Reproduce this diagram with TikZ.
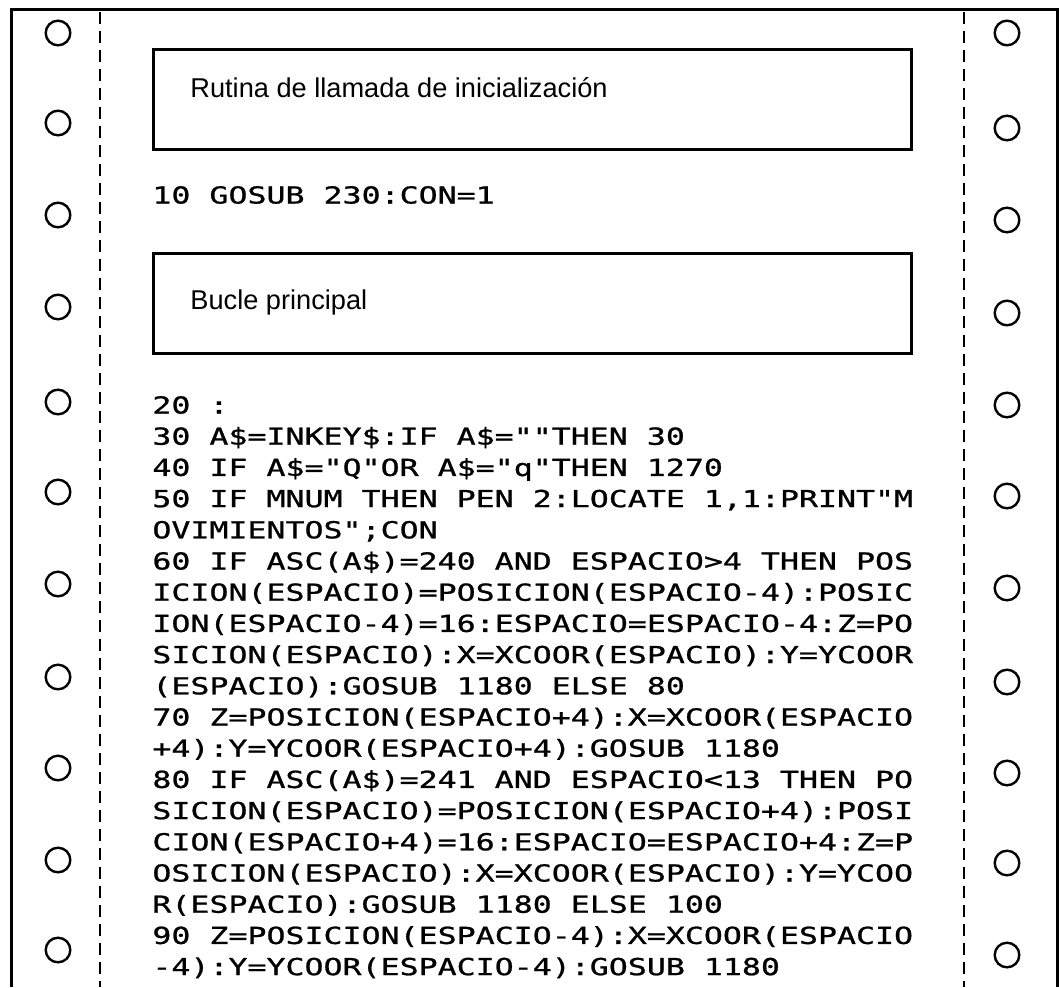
\documentclass[tikz,border=0pt]{standalone}
\usepackage{fontspec}
\setmainfont{Liberation Sans}
\newfontfamily\basicfont[FakeStretch=1.35,FakeBold=1,Ligatures=TeXOff]{DejaVu Sans Mono}
\begin{document}
\begin{tikzpicture}[x=0.5pt,y=-0.5pt]
        \tikzstyle{hole}=[circle,line width=1.2pt,draw=black,minimum size=12.3pt,inner sep=0pt]
        \tikzstyle{tear}=[line width=1pt,dash pattern=on 6pt off 3.5pt]
        \tikzstyle{titlebox}=[rectangle,line width=1.5pt,draw=black,minimum width=379pt,minimum height=50pt,inner sep=0pt]
        \tikzstyle{heading}=[anchor=west,inner sep=0pt,font=\fontsize{13.6}{16}\selectfont,text height=9.6pt,text depth=0pt]
        \tikzstyle{listing}=[anchor=west,inner sep=0pt,font=\basicfont\fontsize{11.7}{14}\selectfont,text height=8.5pt,text depth=0pt]
        \useasboundingbox (0,0) rectangle (1059,987);
        \begin{scope}
                % paper edge and tear lines
                \draw[line width=1.5pt] (11,987) -- (11,9) -- (1057,9) -- (1057,987);
                \draw[tear] (100,12) -- (100,987);
                \draw[tear] (964,12) -- (964,987);
                \foreach \y [count=\i] in {33,123,215,307,402,492,584,677,768,860,950}
                        \node [hole] (holeL\i) at (58,\y) {};
                \foreach \y [count=\i] in {33,128,220,313,405,496,588,682,773,863,955}
                        \node [hole] (holeR\i) at (1007,\y) {};
        \end{scope}
        \begin{scope}
                \node [titlebox] (init) at (532,99) {};
                \node [heading] (initText) at (190,88) {Rutina de llamada de inicialización};
                \node [listing] (gosub) at (152,195) {10 GOSUB 230:CON=1};
                \node [titlebox] (loop) at (532,303) {};
                \node [heading] (loopText) at (190,300) {Bucle principal};
                \foreach \line [count=\i from 0] in {
                        {20 :},
                        {30 A\$=INKEY\$:IF A\$=""THEN 30},
                        {40 IF A\$="Q"OR A\$="q"THEN 1270},
                        {50 IF MNUM THEN PEN 2:LOCATE 1,1:PRINT"M},
                        {OVIMIENTOS";CON},
                        {60 IF ASC(A\$)=240 AND ESPACIO>4 THEN POS},
                        {ICION(ESPACIO)=POSICION(ESPACIO-4):POSIC},
                        {ION(ESPACIO-4)=16:ESPACIO=ESPACIO-4:Z=PO},
                        {SICION(ESPACIO):X=XCOOR(ESPACIO):Y=YCOOR},
                        {(ESPACIO):GOSUB 1180 ELSE 80},
                        {70 Z=POSICION(ESPACIO+4):X=XCOOR(ESPACIO},
                        {+4):Y=YCOOR(ESPACIO+4):GOSUB 1180},
                        {80 IF ASC(A\$)=241 AND ESPACIO<13 THEN PO},
                        {SICION(ESPACIO)=POSICION(ESPACIO+4):POSI},
                        {CION(ESPACIO+4)=16:ESPACIO=ESPACIO+4:Z=P},
                        {OSICION(ESPACIO):X=XCOOR(ESPACIO):Y=YCOO},
                        {R(ESPACIO):GOSUB 1180 ELSE 100},
                        {90 Z=POSICION(ESPACIO-4):X=XCOOR(ESPACIO},
                        {-4):Y=YCOOR(ESPACIO-4):GOSUB 1180}}
                        \node [listing] (line\i) at (152,{405+31.2*\i}) {\line};
        \end{scope}
\end{tikzpicture}
\end{document}
